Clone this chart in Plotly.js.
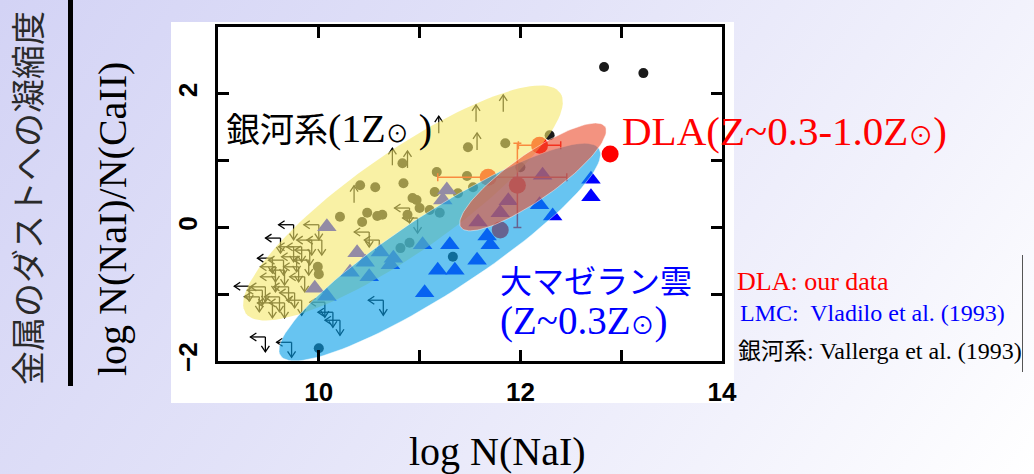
<!DOCTYPE html>
<html>
<head>
<meta charset="utf-8">
<script src="https://cdn.plot.ly/plotly-3.0.1.min.js"></script>
<style>
  html, body { margin: 0; padding: 0; }
  body {
    width: 1034px; height: 474px; overflow: hidden; position: relative;
    background: linear-gradient(125deg, #d3d3f5 0%, #e2e2f8 40%, #f2f2fc 75%, #ffffff 100%);
  }
  #panel { position: absolute; left: 171px; top: 22px; width: 563px; height: 381px; background: #ffffff; }
  #bar { position: absolute; left: 68px; top: 0px; width: 5px; height: 386px; background: #000000; }
  #edge { position: absolute; left: 1022px; top: 255px; width: 1px; height: 117px; background: #555555; }
  #chart { position: absolute; left: 0; top: 0; width: 1034px; height: 474px; }
</style>
</head>
<body>
<div id="panel"></div>
<div id="bar"></div>
<div id="edge"></div>
<div id="chart"></div>
<script>
// ---- axes ----
const xRange = [9, 14];
const yRange = [-2, 3];
const xTickVals = [10, 11, 12, 13, 14];
const xTickText = ['10', '', '12', '', '14'];
const yTickVals = [-2, -1, 0, 1, 2, 3];
const yTickText = ['\u22122', '', '0', '', '2', ''];

// ---- Milky Way (Vallerga et al. 1993): detections ----
const mwX = [10.41, 10.56, 10.21, 10.48, 10.58, 10.43, 9.99, 10.00, 11.48, 11.85,
             11.17, 11.47, 10.84, 10.83, 11.15, 10.93, 12.29, 11.53, 11.38, 10.97,
             11.00, 10.88, 11.10, 11.20, 10.81, 10.90, 11.33, 10.00, 12.00, 10.63,
             12.83, 13.22];
const mwY = [0.63, 0.60, 0.16, 0.22, 0.17, 0.08, -0.59, -0.70, 1.20, 1.26,
             0.83, 0.77, 0.66, 0.96, 0.53, 0.44, 1.38, 0.60, 0.51, 0.41,
             0.29, 0.19, 0.26, 0.22, -0.31, -0.23, -0.44, -1.81, 0.90, 0.19,
             2.40, 2.31];

// ---- Milky Way: upper limits in both N(NaI) and the ratio ----
const mwLimX = [9.75, 9.62, 9.54, 9.31, 10.00, 10.03, 10.50, 10.60, 9.75, 9.66,
                9.80, 9.86, 9.70, 9.57, 9.47, 9.41, 9.61, 9.76, 9.83, 9.66,
                9.54, 9.44, 9.90, 9.78, 9.65, 9.57, 9.83, 9.91, 9.93, 10.64,
                10.06, 10.14, 10.21, 9.47, 9.73, 10.90, 10.98];
const mwLimY = [0.04, -0.16, -0.46, -0.88, 0.04, -0.19, -0.07, -0.19, -0.29, -0.64,
                -0.59, -0.74, -0.89, -0.74, -0.89, -1.04, -1.04, -0.98, -1.09, -1.13,
                -1.13, -0.94, -0.49, -0.44, -0.49, -0.59, -0.29, -0.34, -0.19, -1.09,
                -1.12, -1.27, -1.39, -1.64, -1.72, 0.29, 0.14];

// ---- Milky Way: lower limits on the ratio ----
const mwLowX = [10.73, 10.88, 11.19, 11.56, 11.83, 11.57, 10.35];
const mwLowY = [0.93, 0.89, 1.41, 1.58, 1.73, 1.16, 0.37];

// ---- LMC (Vladilo et al. 1993) ----
const lmcX = [12.70, 12.70, 12.32, 12.19, 12.22, 11.88, 11.58, 11.70, 11.67, 11.57,
              11.30, 11.03, 11.18, 11.35, 11.05, 10.71, 10.61, 10.50, 10.31, 10.46,
              10.08, 9.96, 10.38, 10.08, 11.27, 11.23, 10.74, 11.80];
const lmcY = [0.72, 0.46, 0.17, 0.34, 0.78, 0.40, 0.08, -0.26, -0.13, -0.49,
              -0.26, -0.26, -0.64, -0.64, -0.98, -0.56, -0.37, -0.74, -0.67, -0.52,
              -1.03, -0.91, -0.38, 0.01, 0.56, 0.41, -0.46, 0.22];

// ---- DLA: our data ----
const dlaX = [12.89, 12.19, 11.68, 11.97, 11.80];
const dlaY = [1.10, 1.23, 0.75, 0.63, -0.04];
const dlaErrXPlus  = [0, 0.21, 0.78, 0, 0];
const dlaErrXMinus = [0, 0.21, 0.50, 0, 0];
const dlaErrY      = [0, 0, 0, 0.63, 0];

// ---- page geometry ----
const W = 1034, H = 474;
const M = { l: 218, r: 312, t: 27, b: 113 };
const plotW = W - M.l - M.r, plotH = H - M.t - M.b;
const kx = (xRange[1] - xRange[0]) / plotW;   // data units per pixel
const ky = (yRange[1] - yRange[0]) / plotH;
const px = v => (v - M.l) / plotW;            // page pixel -> paper fraction
const py = v => (H - M.b - v) / plotH;

// line arrows (shaft + open head), lengths given in pixels
function arrow(out, x0, y0, dxp, dyp) {
  const x1 = x0 + dxp * kx, y1 = y0 + dyp * ky;
  const len = Math.hypot(dxp, dyp), ux = dxp / len, uy = dyp / len;
  const hl = 6, hw = 4;
  const bx = -ux * hl, by = -uy * hl, nx = -uy * hw, ny = ux * hw;
  out.x.push(x0, x1, null, x1 + (bx + nx) * kx, x1, x1 + (bx - nx) * kx, null);
  out.y.push(y0, y1, null, y1 + (by + ny) * ky, y1, y1 + (by - ny) * ky, null);
}
const limLines = { x: [], y: [] };
mwLimX.forEach((x, i) => { arrow(limLines, x, mwLimY[i], -15, 0); arrow(limLines, x, mwLimY[i], 0, -15); });
const lowLines = { x: [], y: [] };
mwLowX.forEach((x, i) => arrow(lowLines, x, mwLowY[i], 0, 17));

// tilted ellipses: centre in data units, semi-axes in pixels, tilt in degrees
function ellipse(cx, cy, a, b, deg) {
  const th = deg * Math.PI / 180, xs = [], ys = [];
  for (let k = 0; k <= 120; k++) {
    const t = 2 * Math.PI * k / 120;
    const ex = a * Math.cos(t), ey = b * Math.sin(t);
    const sx = ex * Math.cos(th) - ey * Math.sin(th);
    const sy = ex * Math.sin(th) + ey * Math.cos(th);
    xs.push(cx + sx * kx); ys.push(cy + sy * ky);
  }
  return { x: xs, y: ys };
}
const ellMW  = ellipse(10.835, 0.365, 192, 50, 35);
const ellLMC = ellipse(11.20, -0.37, 190, 40, 33);
const ellDLA = ellipse(12.125, 0.755, 88, 23, 35);

const traces = [
  { x: limLines.x, y: limLines.y, mode: 'lines', line: { color: '#000', width: 1.3 }, hoverinfo: 'skip' },
  { x: lowLines.x, y: lowLines.y, mode: 'lines', line: { color: '#000', width: 1.3 }, hoverinfo: 'skip' },
  { x: mwX, y: mwY, mode: 'markers', marker: { color: '#1a1a1a', size: 10 } },
  { x: lmcX, y: lmcY, mode: 'markers', marker: { color: '#0000ff', size: 17, symbol: 'triangle-up' } },
  { x: dlaX, y: dlaY, mode: 'markers', marker: { color: '#ff0000', size: 17 },
    error_x: { type: 'data', symmetric: false, array: dlaErrXPlus, arrayminus: dlaErrXMinus, color: '#ff0000', thickness: 1.5, width: 4 },
    error_y: { type: 'data', array: dlaErrY, color: '#ff0000', thickness: 1.5, width: 4 } },
  { x: ellMW.x, y: ellMW.y, mode: 'lines', fill: 'toself', fillcolor: 'rgba(245,232,105,0.6)', line: { width: 0, color: 'rgba(0,0,0,0)' }, hoverinfo: 'skip' },
  { x: ellLMC.x, y: ellLMC.y, mode: 'lines', fill: 'toself', fillcolor: 'rgba(10,160,232,0.62)', line: { width: 1, color: 'rgba(255,255,255,0.45)' }, hoverinfo: 'skip' },
  { x: ellDLA.x, y: ellDLA.y, mode: 'lines', fill: 'toself', fillcolor: 'rgba(235,80,50,0.62)', line: { width: 1, color: 'rgba(255,255,255,0.45)' }, hoverinfo: 'skip' }
];

const serif = 'Liberation Serif, Noto Sans CJK JP, serif';
const sun = s => '<span style="font-size:' + s + 'px">\u2299</span>';
const jp = (t, s) => '<span style="font-family:Noto Sans CJK JP;font-size:' + s + 'px">' + t + '</span>';

function note(text, x, y, size, color, extra) {
  return Object.assign({ xref: 'paper', yref: 'paper', x: px(x), y: py(y), xanchor: 'left', yanchor: 'middle',
    text: text, showarrow: false, font: { family: serif, size: size, color: color } }, extra || {});
}

const annotations = [
  note(jp('金属のダストへの凝縮度', 34), 26, 198, 34, '#2a2a2a', { xanchor: 'center', textangle: -90 }),
  note('log N(NaI)/N(CaII)', 112, 219, 40, '#000', { xanchor: 'center', textangle: -90 }),
  note('log N(NaI)', 497, 451, 40, '#000', { xanchor: 'center' }),
  note(jp('銀河系', 34) + '(1Z' + sun(23) + ' )', 224, 127, 40, '#000'),
  note('DLA(Z~0.3-1.0Z' + sun(25) + ')', 620, 131, 41, '#ff0000'),
  note(jp('大マゼラン雲', 32), 498, 279, 32, '#0000ff'),
  note('(Z~0.3Z' + sun(24) + ')', 498, 321, 39, '#0000ff'),
  note('DLA: our data', 735, 281, 26, '#ff0000'),
  note('LMC:  Vladilo et al. (1993)', 738, 313, 24, '#0000ff'),
  note(jp('銀河系', 23) + ': Vallerga et al. (1993)', 736, 349, 24, '#000')
];

const axisBase = {
  ticks: 'inside', ticklen: 11, tickwidth: 3, tickcolor: '#000',
  showline: true, linewidth: 3, linecolor: '#000', mirror: 'ticks',
  showgrid: false, zeroline: false, fixedrange: true,
  tickfont: { family: 'Liberation Sans, Arial, sans-serif', size: 26, color: '#000', weight: 'bold' }
};

const layout = {
  width: W, height: H, margin: M, showlegend: false,
  paper_bgcolor: 'rgba(0,0,0,0)', plot_bgcolor: 'rgba(0,0,0,0)',
  xaxis: Object.assign({}, axisBase, { range: xRange, tickmode: 'array', tickvals: xTickVals, ticktext: xTickText, ticklabelstandoff: 6 }),
  yaxis: Object.assign({}, axisBase, { range: yRange, tickmode: 'array', tickvals: yTickVals, ticktext: yTickText, tickangle: -90, ticklabelstandoff: 8 }),
  annotations: annotations,
  hovermode: false
};

Plotly.newPlot('chart', traces, layout, { staticPlot: true, displayModeBar: false });
</script>
</body>
</html>
